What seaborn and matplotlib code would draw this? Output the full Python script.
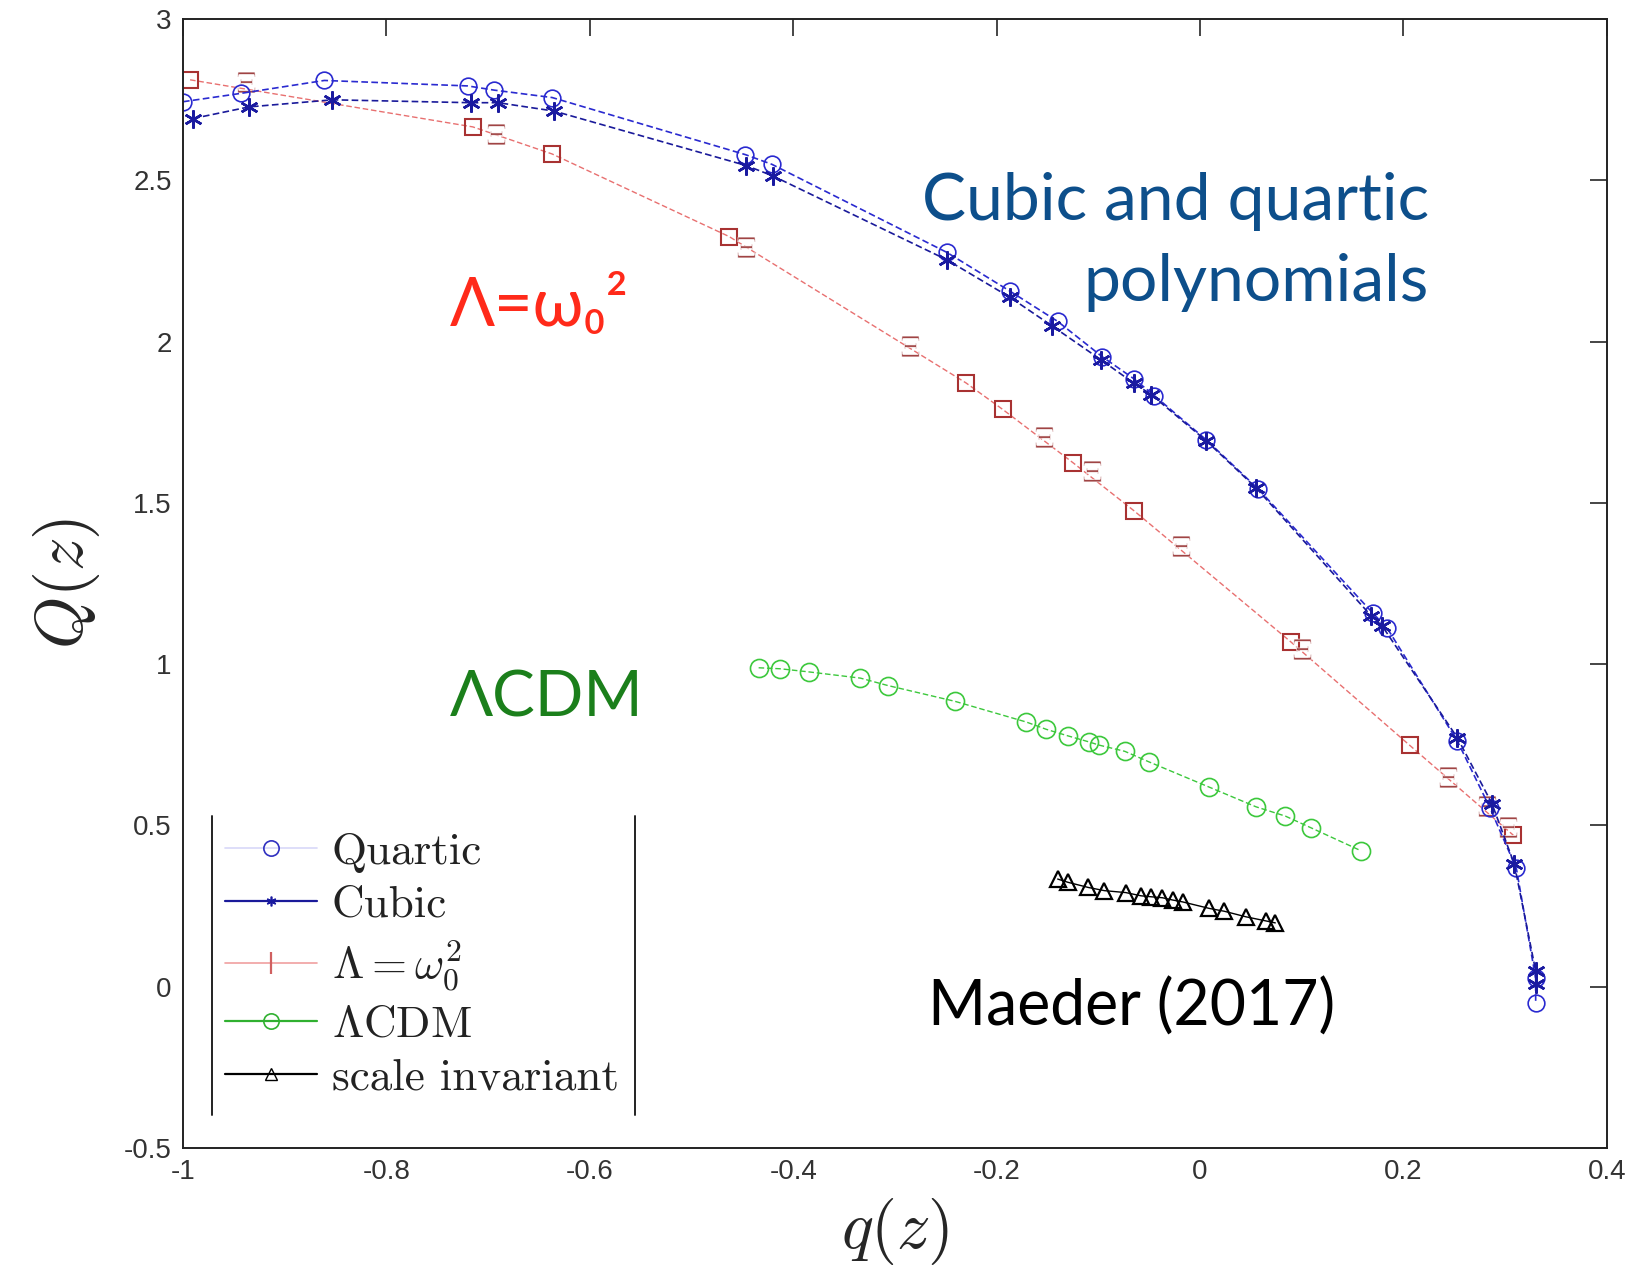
import matplotlib
matplotlib.use("Agg")
import matplotlib.pyplot as plt
import seaborn as sns
from matplotlib.lines import Line2D
from matplotlib.ticker import FuncFormatter, MultipleLocator

# data
quartic_q = [-1.0, -0.943, -0.861, -0.720, -0.694, -0.637, -0.447, -0.421, -0.249, -0.187,
             -0.140, -0.096, -0.065, -0.045, 0.006, 0.057, 0.170, 0.184, 0.253, 0.285,
             0.311, 0.330, 0.330]
quartic_Q = [2.744, 2.77, 2.81, 2.793, 2.78, 2.757, 2.58, 2.55, 2.277, 2.157,
             2.063, 1.953, 1.885, 1.833, 1.696, 1.544, 1.158, 1.112, 0.762, 0.555,
             0.367, 0.026, -0.049]

cubic_q = [-0.990, -0.935, -0.853, -0.717, -0.690, -0.635, -0.446, -0.420, -0.249, -0.187,
           -0.146, -0.097, -0.065, -0.048, 0.006, 0.055, 0.168, 0.179, 0.253, 0.287,
           0.309, 0.330, 0.330]
cubic_Q = [2.692, 2.728, 2.75, 2.741, 2.741, 2.715, 2.546, 2.514, 2.254, 2.138,
           2.05, 1.943, 1.871, 1.836, 1.693, 1.547, 1.151, 1.119, 0.772, 0.568,
           0.38, 0.049, 0.01]

lam_sq_q = [-0.993, -0.715, -0.637, -0.463, -0.230, -0.194, -0.125, -0.065, 0.089, 0.206, 0.308]
lam_sq_Q = [2.812, 2.666, 2.582, 2.326, 1.872, 1.790, 1.625, 1.476, 1.070, 0.749, 0.470]

lam_xi_q = [-0.938, -0.692, -0.446, -0.285, -0.153, -0.106, -0.019, 0.100, 0.244, 0.282, 0.303]
lam_xi_Q = [2.806, 2.643, 2.293, 1.988, 1.703, 1.599, 1.366, 1.048, 0.649, 0.561, 0.496]

lcdm_q = [-0.434, -0.413, -0.384, -0.334, -0.307, -0.241, -0.171, -0.151, -0.130, -0.109,
          -0.099, -0.074, -0.050, 0.009, 0.055, 0.084, 0.109, 0.158]
lcdm_Q = [0.989, 0.986, 0.976, 0.957, 0.934, 0.885, 0.821, 0.798, 0.778, 0.759,
          0.749, 0.730, 0.697, 0.619, 0.558, 0.529, 0.493, 0.422]

scale_q = [-0.140, -0.130, -0.110, -0.094, -0.073, -0.058, -0.048, -0.037, -0.027, -0.017,
           0.009, 0.024, 0.045, 0.065, 0.074]
scale_Q = [0.334, 0.324, 0.308, 0.298, 0.292, 0.282, 0.279, 0.276, 0.269, 0.263,
           0.243, 0.234, 0.217, 0.204, 0.198]

legend_labels = ["Quartic", "Cubic", r"$\Lambda=\omega_0^2$", r"$\Lambda$CDM", "scale invariant"]

sns.set_style("white")
plt.rcParams["mathtext.fontset"] = "cm"
plt.rcParams["font.family"] = ["Liberation Sans", "DejaVu Sans"]

fig = plt.figure(figsize=(16.41, 12.78), dpi=100)
ax = fig.add_axes([0.1115, 0.1017, 0.8677, 0.8833])

# curves
sns.lineplot(x=lam_sq_q, y=lam_sq_Q, ax=ax, sort=False, estimator=None, legend=False,
             color="#e87070", lw=1.0, linestyle=(0, (4, 2)))
sns.lineplot(x=lam_sq_q, y=lam_sq_Q, ax=ax, sort=False, estimator=None, legend=False,
             color="#a83232", lw=0, marker="s", ms=11, mfc="none", mec="#a83232", mew=1.5)
sns.lineplot(x=lam_xi_q, y=lam_xi_Q, ax=ax, sort=False, estimator=None, legend=False,
             color="#a04444", lw=0, marker=r"$\Xi$", ms=15, mew=0.4)

sns.lineplot(x=quartic_q, y=quartic_Q, ax=ax, sort=False, estimator=None, legend=False,
             color="#2a2ad0", lw=1.2, linestyle=(0, (4, 2)), marker="o", ms=12,
             mfc="none", mec="#2a2ad0", mew=1.2)
sns.lineplot(x=cubic_q, y=cubic_Q, ax=ax, sort=False, estimator=None, legend=False,
             color="#1a1a9a", lw=1.2, linestyle=(0, (4, 2)), marker=(6, 2, 0), ms=13,
             mfc="#1a1aa0", mec="#1a1aa0", mew=1.8)

sns.lineplot(x=lcdm_q, y=lcdm_Q, ax=ax, sort=False, estimator=None, legend=False,
             color="#3cc83c", lw=1.0, linestyle=(0, (4, 2)), marker="o", ms=13,
             mfc="none", mec="#3cc83c", mew=1.2)
sns.lineplot(x=scale_q, y=scale_Q, ax=ax, sort=False, estimator=None, legend=False,
             color="black", lw=1.0, marker="^", ms=11, mfc="none", mec="black", mew=1.6)

# axes
ax.set_xlim(-1, 0.4)
ax.set_ylim(-0.5, 3)
ax.xaxis.set_major_locator(MultipleLocator(0.2))
ax.yaxis.set_major_locator(MultipleLocator(0.5))
fmt = FuncFormatter(lambda v, p: ("%g" % round(v, 2)).replace("\u2212", "-"))
ax.xaxis.set_major_formatter(fmt)
ax.yaxis.set_major_formatter(fmt)
ax.tick_params(direction="in", length=12, width=1.2, top=True, right=True,
               labelsize=20, labelcolor="#333333", pad=8)
for s in ax.spines.values():
    s.set_linewidth(1.4)
    s.set_color("#222222")

ax.set_xlabel(r"$q(z)$", fontsize=48, labelpad=8)
ax.set_ylabel(r"$Q(z)$", fontsize=48, labelpad=16)

# legend with only side rules
handles = [
    Line2D([], [], color="#d8d8f8", lw=1.2, marker="o", ms=11, mfc="none", mec="#3030c0", mew=1.2),
    Line2D([], [], color="#1a1a9a", lw=1.6, marker=(6, 2, 0), ms=7, mec="#1a1aa0", mew=1.2),
    Line2D([], [], color="#f0a0a0", lw=1.2, marker="|", ms=16, mec="#d06060", mew=1.6,
           markevery=[0]),
    Line2D([], [], color="#30b030", lw=1.6, marker="o", ms=11, mfc="none", mec="#30b030", mew=1.2),
    Line2D([], [], color="black", lw=1.6, marker="^", ms=9, mfc="none", mec="black", mew=1.0),
]
leg = ax.legend(handles, legend_labels, loc="upper left", bbox_to_anchor=(0.0294, 0.2795),
                frameon=False, borderaxespad=0, borderpad=0, handlelength=2.05,
                handletextpad=0.32, labelspacing=0.27,
                prop={"family": "cmr10", "size": 32.5})
for t in leg.get_texts():
    t.set_color("#222222")
for xv in (0.0206, 0.3176):
    ax.add_line(Line2D([xv, xv], [0.0297, 0.2938], transform=ax.transAxes,
                       color="#222222", lw=1.4))

# annotations
ann_font = ["Lato", "DejaVu Sans"]
ax.text(0.225, 2.309, "Cubic and quartic\npolynomials", ha="right", va="center",
        multialignment="right", fontsize=47.5, color="#0d4f8b", family=ann_font,
        linespacing=1.45)
ax.text(-0.7375, 2.108, "\u039b=\u03c9\u2080\u00b2", ha="left", va="center",
        fontsize=48, color="#ff2a1a", family=ann_font)
ax.text(-0.7375, 0.895, "\u039bCDM", ha="left", va="center",
        fontsize=46, color="#1b7f1b", family=ann_font)
ax.text(-0.267, -0.062, "Maeder (2017)", ha="left", va="center",
        fontsize=45, color="black", family=ann_font)

fig.savefig("out.png", dpi=100)
